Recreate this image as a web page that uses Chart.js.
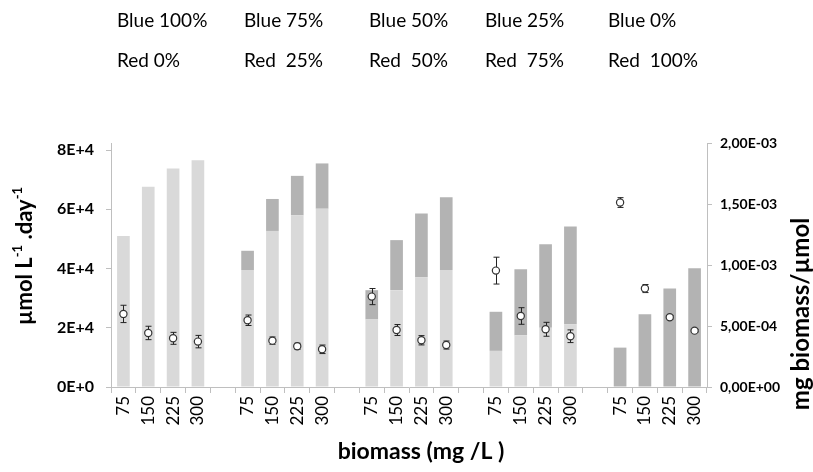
<!DOCTYPE html>
<html><head><meta charset="utf-8">
<script src="https://cdn.jsdelivr.net/npm/chart.js@4/dist/chart.umd.min.js"></script>
<style>html,body{margin:0;padding:0;background:#fff;}#wrap{width:813px;height:472px;}</style>
</head><body><div id="wrap"><canvas id="c" width="813" height="472"></canvas></div>
<script>
// ---- data ----
const categories = ["75","150","225","300","","75","150","225","300","","75","150","225","300","","75","150","225","300","","75","150","225","300"];
const lightValues = [51000,67600,73800,76600,null, 39500,52700,58000,60200,null, 22800,32700,37100,39500,null, 12200,17500,20000,21200,null, 0,0,0,0];
const darkValues  = [0,0,0,0,null, 6500,10800,13300,15300,null, 9900,16900,21500,24600,null, 13200,22300,28200,33000,null, 13300,24600,33300,40100];
const ratioValues = [5.99e-4,4.43e-4,3.99e-4,3.72e-4,null, 5.47e-4,3.80e-4,3.34e-4,3.09e-4,null, 7.41e-4,4.67e-4,3.83e-4,3.44e-4,null, 9.54e-4,5.82e-4,4.73e-4,4.16e-4,null, 1.512e-3,8.07e-4,5.72e-4,4.62e-4];
const ratioErrors = [0.71e-4,0.55e-4,0.49e-4,0.51e-4,null, 0.43e-4,0.30e-4,0.25e-4,0.35e-4,null, 0.66e-4,0.45e-4,0.38e-4,0.33e-4,null, 1.10e-4,0.68e-4,0.57e-4,0.52e-4,null, 0.40e-4,0.33e-4,0.15e-4,0.10e-4];
const leftTicks = [0,20000,40000,60000,80000];
const rightTicks = [0,0.0005,0.001,0.0015,0.002];
const headerBlue = ["Blue 100%","Blue 75%","Blue 50%","Blue 25%","Blue 0%"];
const headerRed  = ["Red 0%","Red  25%","Red  50%","Red  75%","Red  100%"];
const xTitle = "biomass (mg /L )";
const rightTitle = "mg biomass/\u00b5mol";

function fmtLeft(v){ return v===0 ? "0E+0" : (v/10000)+"E+4"; }
function fmtRight(v){
  if (v===0) return "0,00E+00";
  const e = Math.floor(Math.log10(v)+1e-9);
  const m = v/Math.pow(10,e);
  const es = e<0 ? "-"+String(-e).padStart(2,"0") : "+"+String(e).padStart(2,"0");
  return m.toFixed(2).replace(".",",")+"E"+es;
}

const errorBarPlugin = {
  id:'errbars',
  beforeDatasetDraw(chart, args){
    if (args.index !== 0) return;
    const xs = chart.scales.x, ys = chart.scales.y2, c = chart.ctx;
    c.save(); c.strokeStyle='#222'; c.lineWidth=1;
    ratioValues.forEach((v,i)=>{
      if (v==null || !ratioErrors[i]) return;
      const px = Math.round(xs.getPixelForValue(i))+0.5;
      const t = ys.getPixelForValue(v+ratioErrors[i]);
      const b = ys.getPixelForValue(v-ratioErrors[i]);
      c.beginPath();
      c.moveTo(px,t); c.lineTo(px,b);
      c.moveTo(px-3,t); c.lineTo(px+3,t);
      c.moveTo(px-3,b); c.lineTo(px+3,b);
      c.stroke();
    });
    c.restore();
  }
};

const textPlugin = {
  id:'texts',
  afterDraw(chart){
    const c = chart.ctx;
    c.save();
    c.fillStyle='#000';
    c.textBaseline='middle'; c.textAlign='left';
    c.font='19px Lato';
    const cols=[117,244,369,485,608];
    headerBlue.forEach((t,i)=>c.fillText(t,cols[i],21));
    headerRed.forEach((t,i)=>c.fillText(t,cols[i],61));
    // x title
    c.font='bold 23px Lato'; c.textAlign='center';
    c.fillText(xTitle,421,452);
    // left title with superscripts
    const parts=[["\u00b5mol L",false],["-1",true],[" .day",false],["-1",true]];
    const fMain='bold 22px Lato', fSup='bold 13px Lato';
    let total=0;
    parts.forEach(p=>{c.font=p[1]?fSup:fMain; total+=c.measureText(p[0]).width;});
    c.save();
    c.translate(25,256); c.rotate(-Math.PI/2);
    c.textAlign='left';
    let xx=-total/2;
    parts.forEach(p=>{c.font=p[1]?fSup:fMain; c.fillText(p[0],xx,p[1]?-7:0); xx+=c.measureText(p[0]).width;});
    c.restore();
    // right title
    c.save();
    c.translate(801,314); c.rotate(-Math.PI/2);
    c.font='bold 24px Lato'; c.textAlign='center';
    c.fillText(rightTitle,0,0);
    c.restore();
    c.restore();
  }
};

const axisColor='#bfbfbf';
new Chart(document.getElementById('c'),{
  type:'bar',
  data:{labels:categories,datasets:[
    {type:'line',label:'ratio',data:ratioValues,yAxisID:'y2',showLine:false,pointRadius:3.6,pointBackgroundColor:'#fff',pointBorderColor:'#333',pointBorderWidth:1.2,order:0},
    {label:'light',data:lightValues,backgroundColor:'#d9d9d9',yAxisID:'y',order:1,stack:'s'},
    {label:'dark',data:darkValues,backgroundColor:'#b3b3b3',yAxisID:'y',order:2,stack:'s'}
  ]},
  options:{
    responsive:false,animation:false,devicePixelRatio:1,
    layout:{padding:{top:143,left:0,right:0,bottom:0}},
    plugins:{legend:{display:false},tooltip:{enabled:false}},
    datasets:{bar:{barPercentage:0.51,categoryPercentage:1}},
    scales:{
      x:{stacked:true,offset:true,
        grid:{display:true,drawOnChartArea:false,drawTicks:true,tickLength:6,offset:true,color:axisColor},
        border:{color:axisColor},
        ticks:{autoSkip:false,maxRotation:90,minRotation:90,padding:3,color:'#000',font:{family:'Lato',size:17}},
        afterFit(s){s.height=85;}},
      y:{position:'left',stacked:true,min:0,max:82400,
        grid:{drawOnChartArea:false,drawTicks:true,tickLength:5,color:axisColor},
        border:{color:axisColor},
        afterBuildTicks(s){s.ticks=leftTicks.map(v=>({value:v}));},
        ticks:{padding:12,color:'#000',font:{family:'Lato',size:16,weight:'bold'},callback:v=>fmtLeft(v)},
        afterFit(s){s.width=111;}},
      y2:{position:'right',min:0,max:0.002,
        grid:{drawOnChartArea:false,drawTicks:true,tickLength:5,color:axisColor},
        border:{color:axisColor},
        afterBuildTicks(s){s.ticks=rightTicks.map(v=>({value:v}));},
        ticks:{padding:8,color:'#000',font:{family:'Lato',size:14,weight:'bold'},callback:v=>fmtRight(v)},
        afterFit(s){s.width=106;}}
    }
  },
  plugins:[errorBarPlugin,textPlugin]
});
</script>
</body></html>
